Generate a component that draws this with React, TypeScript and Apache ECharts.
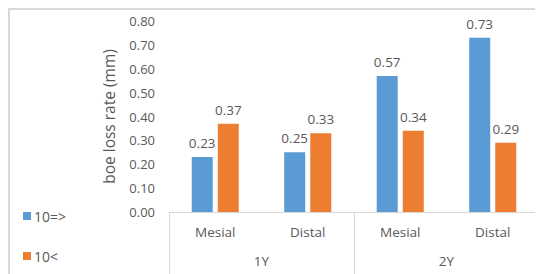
import React, { useEffect, useRef } from "react";
import * as echarts from "echarts";

const categories = ["Mesial", "Distal", "Mesial", "Distal"];
const groups = ["1Y", "2Y"];
const seriesNames = ["10=>", "10<"];
const valuesA = [0.23, 0.25, 0.57, 0.73];
const valuesB = [0.37, 0.33, 0.34, 0.29];
const yTicks = { min: 0, max: 0.8, interval: 0.1 };
const yName = "boe loss rate (mm)";

const FONT = "'Open Sans', 'Noto Sans', sans-serif";
const TXT = "#595959";
const LINE = "#d9d9d9";

export default function App() {
  const ref = useRef<HTMLDivElement>(null);
  useEffect(() => {
    if (!ref.current) return;
    const chart = echarts.init(ref.current, undefined, { renderer: "svg" });
    chart.setOption({
      animation: false,
      textStyle: { fontFamily: FONT },
      graphic: [
        {
          type: "rect",
          shape: { x: 1, y: 1, width: 700, height: 500 },
          style: { fill: "none", stroke: LINE, lineWidth: 2 },
          silent: true,
        },
      ],
      legend: {
        orient: "vertical",
        left: 15,
        top: 201,
        padding: 0,
        itemWidth: 8,
        itemHeight: 8,
        itemGap: 26,
        icon: "rect",
        textStyle: { color: TXT, fontSize: 14, fontFamily: FONT, padding: [0, 0, 0, -2] },
        data: seriesNames,
      },
      grid: { left: 161, right: 4, top: 13, bottom: 62, containLabel: false },
      xAxis: [
        {
          type: "category",
          data: categories,
          position: "bottom",
          axisLine: { show: true, lineStyle: { color: LINE, width: 1 } },
          axisTick: { show: false },
          axisLabel: { color: TXT, fontSize: 13.5, margin: 13, fontFamily: FONT },
          splitLine: { show: false },
        },
        {
          type: "category",
          data: groups,
          position: "bottom",
          axisLine: { show: false },
          axisTick: { show: true, length: 62, lineStyle: { color: LINE, width: 1 } },
          axisLabel: { color: TXT, fontSize: 13.5, margin: 42, fontFamily: FONT },
          splitLine: { show: false },
        },
      ],
      yAxis: {
        type: "value",
        min: yTicks.min,
        max: yTicks.max,
        interval: yTicks.interval,
        name: yName,
        nameLocation: "middle",
        nameGap: 52,
        nameTextStyle: { color: TXT, fontSize: 15.5, fontFamily: FONT },
        axisLine: { show: false },
        axisTick: { show: false },
        splitLine: { show: false },
        axisLabel: {
          color: TXT,
          fontSize: 13,
          margin: 14,
          fontFamily: FONT,
          formatter: (v: number) => v.toFixed(2),
        },
      },
      series: [
        {
          name: seriesNames[0],
          type: "bar",
          xAxisIndex: 0,
          data: valuesA,
          barWidth: 21,
          barGap: "24%",
          itemStyle: { color: "#5B9BD5" },
          label: {
            show: true,
            position: "top",
            distance: 7,
            color: TXT,
            fontSize: 13.5,
            fontFamily: FONT,
            formatter: (p: any) => p.value.toFixed(2),
          },
        },
        {
          name: seriesNames[1],
          type: "bar",
          xAxisIndex: 0,
          data: valuesB,
          barWidth: 21,
          barGap: "24%",
          itemStyle: { color: "#ED7D31" },
          label: {
            show: true,
            position: "top",
            distance: 7,
            color: TXT,
            fontSize: 13.5,
            fontFamily: FONT,
            formatter: (p: any) => p.value.toFixed(2),
          },
        },
      ],
    });
    return () => chart.dispose();
  }, []);
  return <div ref={ref} style={{ width: 535, height: 266 }} />;
}
